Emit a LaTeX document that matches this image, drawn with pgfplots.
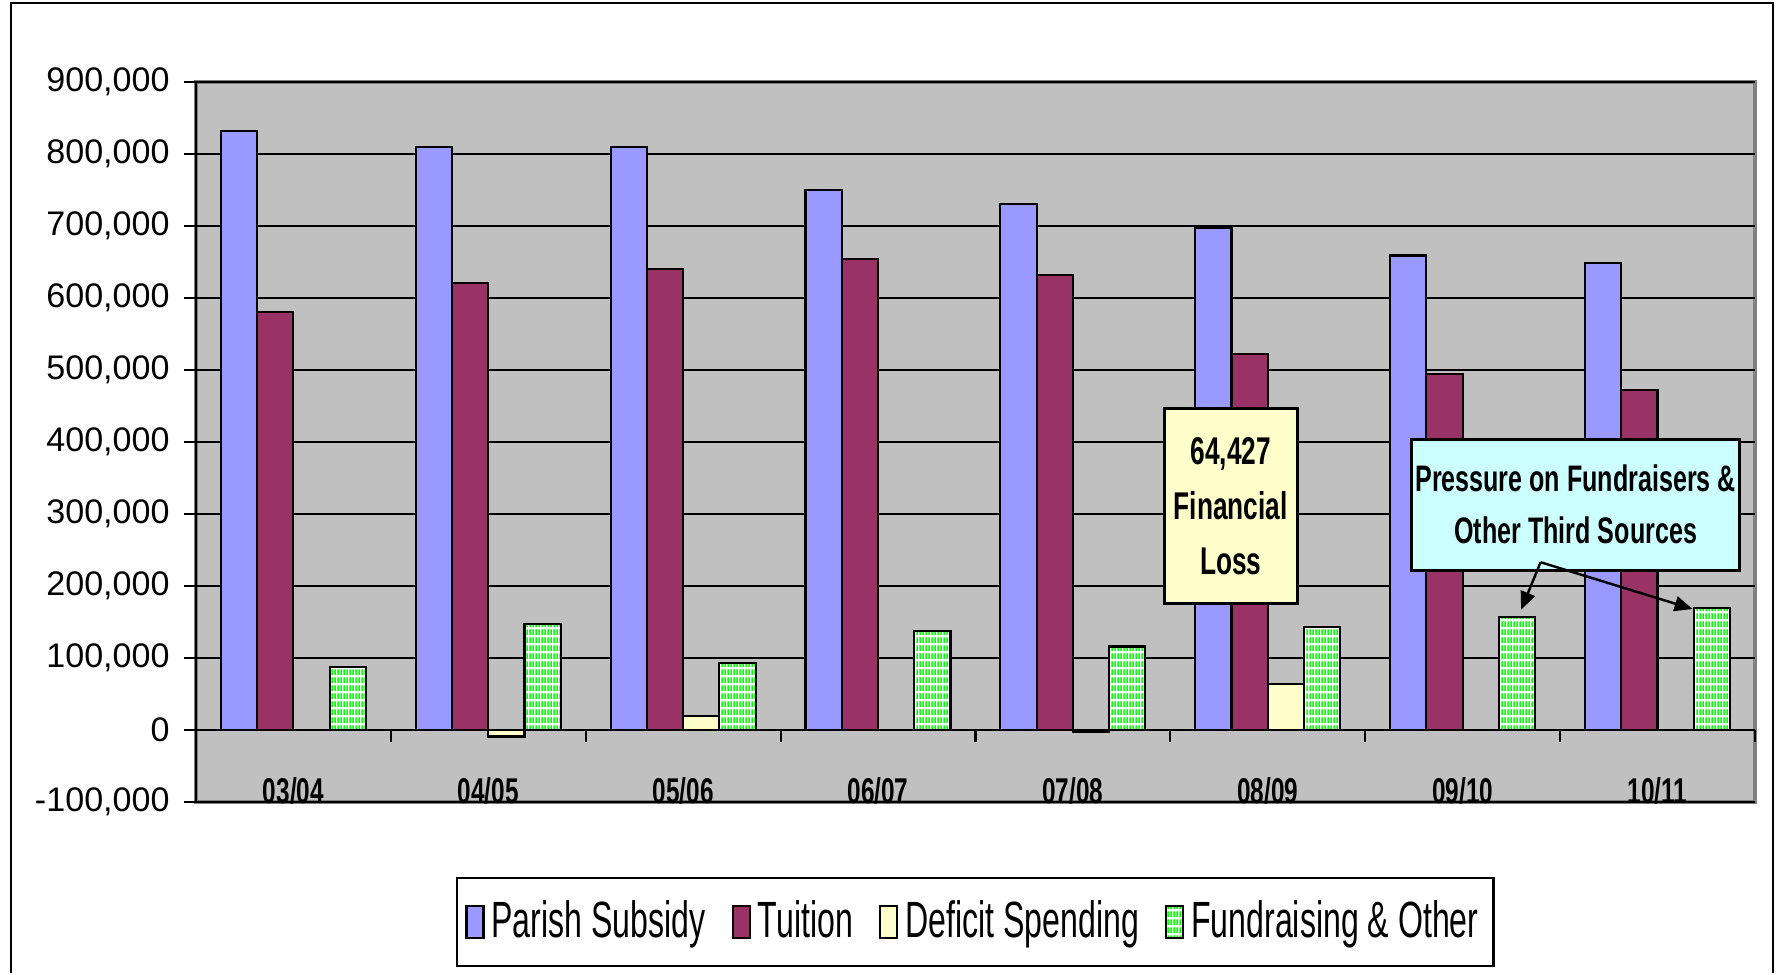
\documentclass[border=0pt]{standalone}
\usepackage{fontspec}
\setmainfont{Liberation Sans}
\newfontfamily\narrow{Liberation Sans}[FakeStretch=0.68]
\newfontfamily\legendfont{Liberation Sans}[FakeStretch=0.63]
\usepackage{pgfplots}
\pgfplotsset{compat=1.18}
\usetikzlibrary{patterns,arrows.meta}
\definecolor{parish}{HTML}{9999FF}
\definecolor{tuition}{HTML}{993366}
\definecolor{deficit}{HTML}{FFFFCC}
\definecolor{fundgreen}{HTML}{00FF00}
\definecolor{plotbg}{HTML}{C0C0C0}
\definecolor{framegray}{HTML}{808080}
\definecolor{calloutcyan}{HTML}{CCFFFF}
% green stripes with small white breaks, as in the Excel fill
\pgfdeclarepatternformonly{fundstripes}{\pgfqpoint{0pt}{0pt}}{\pgfqpoint{0.9pt}{2.3pt}}{\pgfqpoint{0.9pt}{2.3pt}}{%
  \pgfpathrectangle{\pgfqpoint{0.15pt}{0.3pt}}{\pgfqpoint{0.55pt}{1.75pt}}\pgfusepath{fill}}
\pgfplotsset{
  barout/.style={draw=black, line width=0.6pt,
    legend image code/.code={\draw[##1] (0mm,-1.6mm) rectangle (1.7mm,1.6mm);}},
}
\begin{document}
\begin{tikzpicture}
\path (-1.96cm,-1.71cm) rectangle (15.81cm,8.02cm);
\begin{axis}[
    at={(0,0)}, anchor=south west,
    scale only axis, width=15.59cm, height=7.2cm,
    ybar=0pt, bar width=0.186,
    xmin=-0.5, xmax=7.5, ymin=-100000, ymax=900000,
    axis x line*=middle, axis y line*=left,
    hide obscured x ticks=false, hide obscured y ticks=false,
    axis line style={black, line width=0.6pt},
    axis background/.style={fill=plotbg, draw=framegray, line width=0.9pt},
    xtick={0,...,7},
    xticklabels={03/04,04/05,05/06,06/07,07/08,08/09,09/10,10/11},
    major x tick style={draw=none},
    minor xtick={-0.5,0.5,...,7.5},
    minor x tick style={black, line width=0.6pt},
    minor tick length=1.2mm,
    major tick length=1.2mm,
    xtick align=outside, ytick align=outside,
    ytick={-100000,0,...,900000},
    y tick style={black, line width=0.6pt},
    ymajorgrids, grid style={black, line width=0.7pt},
    scaled y ticks=false,
    /pgf/number format/1000 sep={,},
    /pgf/number format/fixed,
    /pgf/number format/assume math mode=true,
    yticklabel style={font=\fontsize{9.7}{11}\selectfont, xshift=-0.2mm},
    xticklabel style={font=\narrow\bfseries\fontsize{10.2}{12}\selectfont, anchor=north, yshift=-2.3mm},
    legend style={at={(0.5,-0.1667)}, anchor=center, legend columns=4,
      draw=black, line width=0.6pt, fill=white, inner ysep=1.6mm, inner xsep=0.8mm,
      font=\legendfont\fontsize{14.5}{16}\selectfont,
      /tikz/every even column/.append style={column sep=1.9mm}},
  ]
\addplot[barout, fill=parish] coordinates {
  (0,832000) (1,810000) (2,810000) (3,750000) (4,731000) (5,697000) (6,659000) (7,649000)};
\addplot[barout, fill=tuition] coordinates {
  (0,580000) (1,621000) (2,640000) (3,654000) (4,632000) (5,522000) (6,495000) (7,472000)};
\addplot[barout, fill=deficit] coordinates {
  (0,0) (1,-9000) (2,20000) (3,0) (4,-3000) (5,64427) (6,0) (7,0)};
\addplot[barout, fill=white, postaction={pattern=fundstripes, pattern color=fundgreen}] coordinates {
  (0,88000) (1,147000) (2,93000) (3,138000) (4,116000) (5,143000) (6,157000) (7,170000)};
\legend{Parish Subsidy, Tuition, Deficit Spending, Fundraising \& Other}

\node[draw=black, line width=0.8pt, fill=deficit, minimum width=13.3mm, minimum height=19.5mm,
      inner sep=0pt, align=center, font=\narrow\bfseries\fontsize{11}{15.6}\selectfont]
  at (axis cs:4.81,311000) {64,427\\Financial\\Loss};
\node[draw=black, line width=0.8pt, fill=calloutcyan, minimum width=32.8mm, minimum height=13.1mm,
      inner sep=0pt, align=center, font=\narrow\bfseries\fontsize{10.5}{14.8}\selectfont]
  at (axis cs:6.58,313000) {Pressure on Fundraisers \&\\Other Third Sources};
\draw[-{Triangle[length=1.8mm,width=1.5mm]}, line width=0.7pt]
  (axis cs:6.40,233000) -- (axis cs:6.30,167000);
\draw[-{Triangle[length=1.8mm,width=1.5mm]}, line width=0.7pt]
  (axis cs:6.40,233000) -- (axis cs:7.18,168000);
\end{axis}
\draw[line width=0.6pt] (-1.85cm,-1.71cm) -- (-1.85cm,7.99cm) -- (15.77cm,7.99cm) -- (15.77cm,-1.71cm);
\end{tikzpicture}
\end{document}
